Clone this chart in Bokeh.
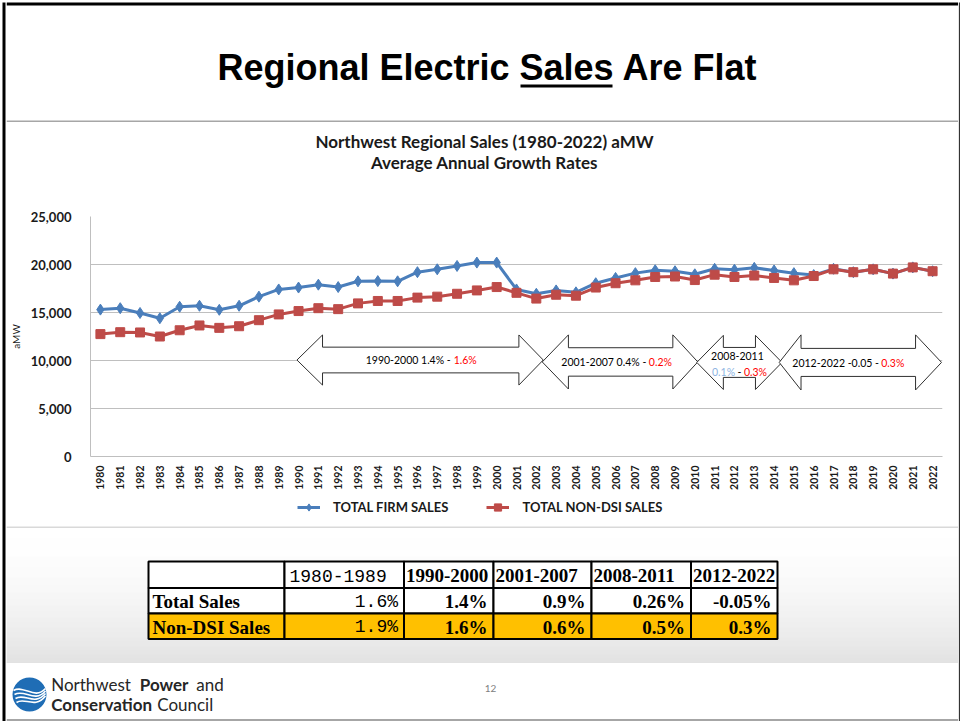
import math
from bokeh.plotting import figure
from bokeh.models import Range1d, FixedTicker, NumeralTickFormatter, Legend, LegendItem
from bokeh.layouts import column, row
from bokeh.core.properties import value
from bokeh.embed import file_html
from bokeh.resources import INLINE

# ---------------- data ----------------
YEARS = list(range(1980, 2023))
TOTAL_FIRM_SALES = [15300, 15450, 14950, 14400, 15600, 15700, 15280, 15700, 16650, 17400,
                    17600, 17900, 17650, 18250, 18270, 18250, 19200, 19500, 19850, 20200,
                    20200, 17400, 16950, 17300, 17100, 18050, 18600, 19100, 19400, 19300,
                    18980, 19550, 19450, 19650, 19380, 19100, 18900, 19550, 19200, 19500,
                    19050, 19700, 19300]
TOTAL_NON_DSI_SALES = [12750, 12950, 12920, 12500, 13150, 13650, 13400, 13570, 14200, 14800,
                       15150, 15450, 15350, 15950, 16200, 16200, 16550, 16650, 16950, 17300,
                       17650, 17050, 16450, 16850, 16750, 17600, 18050, 18350, 18700, 18750,
                       18380, 18940, 18700, 18850, 18600, 18350, 18800, 19500, 19200, 19500,
                       19050, 19700, 19300]
Y_TICKS = [0, 5000, 10000, 15000, 20000, 25000]
SERIES_NAMES = ["TOTAL FIRM SALES", "TOTAL NON-DSI SALES"]

TABLE_PERIODS = ["1980-1989", "1990-2000", "2001-2007", "2008-2011", "2012-2022"]
TABLE_ROWS = ["Total Sales", "Non-DSI Sales"]
TOTAL_SALES_GROWTH = ["1.6%", "1.4%", "0.9%", "0.26%", "-0.05%"]
NON_DSI_GROWTH = ["1.9%", "1.6%", "0.6%", "0.5%", "0.3%"]

SLIDE_TITLE = ["Regional Electric", "Sales", "Are Flat"]
CHART_TITLE = ["Northwest Regional Sales (1980-2022) aMW", "Average Annual Growth Rates"]

BLUE = "#4a7ebb"
RED = "#be4b48"
X0, X1 = 6, 958
W = X1 - X0
CAL = value("Lato")
CALS = "Lato"


def deco_fig(y0, y1, x0=X0, x1=X1):
    p = figure(width=x1 - x0, height=y1 - y0, x_range=Range1d(x0, x1), y_range=Range1d(y1, y0),
               output_backend="svg", toolbar_location=None, min_border=0,
               x_axis_type=None, y_axis_type=None, frame_align=False)
    p.grid.visible = False
    p.outline_line_color = None
    p.background_fill_color = "white"
    p.border_fill_color = "white"
    return p


# ---------------- slide borders ----------------
left_strip = deco_fig(0, 721, 0, X0)
left_strip.segment(x0=[3.5], y0=[2], x1=[3.5], y1=[721], line_color="black", line_width=3)
right_strip = deco_fig(0, 721, X1, 960)
right_strip.segment(x0=[959], y0=[2], x1=[959], y1=[721], line_color="#333333", line_width=1.5)

# ---------------- slide header ----------------
hdr = deco_fig(0, 122)
hdr.segment(x0=[X0], y0=[3.5], x1=[X1], y1=[3.5], line_color="black", line_width=3)
tf = value("Liberation Sans")
hdr.text(x=[509], y=[67], text=[SLIDE_TITLE[0]], text_align="right", text_baseline="middle",
         text_font=tf, text_font_style="bold", text_font_size="36px", text_color="black")
hdr.text(x=[566], y=[67], text=[SLIDE_TITLE[1]], text_align="center", text_baseline="middle",
         text_font=tf, text_font_style="bold", text_font_size="36px", text_color="black")
hdr.text(x=[622], y=[67], text=[SLIDE_TITLE[2]], text_align="left", text_baseline="middle",
         text_font=tf, text_font_style="bold", text_font_size="36px", text_color="black")
hdr.segment(x0=[520], y0=[85.5], x1=[612], y1=[85.5], line_color="black", line_width=3)
hdr.segment(x0=[X0], y0=[121], x1=[X1], y1=[121], line_color="#a6a6a6", line_width=2)

# ---------------- chart title ----------------
ctl = deco_fig(122, 190)
ctl.text(x=[484, 484], y=[141, 162], text=CHART_TITLE, text_align="center", text_baseline="middle",
         text_font=CAL, text_font_style="bold", text_font_size="17px", text_color="#1a1a1a")

# ---------------- chart ----------------
p = figure(width=W, height=305, x_range=Range1d(1979.5, 2022.5), y_range=Range1d(0, 25000),
           output_backend="svg", toolbar_location=None, frame_align=False,
           min_border_left=88 - X0, min_border_right=X1 - 942, min_border_top=26, min_border_bottom=39)
p.outline_line_color = None
p.xgrid.visible = False
p.ygrid.grid_line_color = "#bfbfbf"
p.ygrid.grid_line_width = 1.2

p.yaxis.ticker = FixedTicker(ticks=Y_TICKS)
p.yaxis.formatter = NumeralTickFormatter(format="0,0")
p.yaxis.axis_line_color = "#bfbfbf"
p.yaxis.major_tick_line_color = None
p.yaxis.minor_tick_line_color = None
p.yaxis.major_label_standoff = 13
p.yaxis.major_label_text_font = CALS
p.yaxis.major_label_text_font_style = "bold"
p.yaxis.major_label_text_font_size = "13px"
p.yaxis.major_label_text_color = "#1a1a1a"
p.yaxis.axis_label = "aMW"
p.yaxis.axis_label_text_font = CALS
p.yaxis.axis_label_text_font_style = "normal"
p.yaxis.axis_label_text_font_size = "10px"
p.yaxis.axis_label_text_color = "#1a1a1a"
p.yaxis.axis_label_standoff = 6

p.xaxis.ticker = FixedTicker(ticks=YEARS)
p.xaxis.major_label_orientation = math.pi / 2
p.xaxis.axis_line_color = "#bfbfbf"
p.xaxis.major_tick_line_color = None
p.xaxis.minor_tick_line_color = None
p.xaxis.major_label_standoff = 3
p.xaxis.major_label_text_font = CALS
p.xaxis.major_label_text_font_style = "bold"
p.xaxis.major_label_text_font_size = "10.5px"
p.xaxis.major_label_text_color = "#1a1a1a"


def arrow(x0, x1, yc, hh, sh, hl, hr):
    xs = [x0, x0 + hl, x0 + hl, x1 - hr, x1 - hr, x1, x1 - hr, x1 - hr, x0 + hl, x0 + hl]
    ys = [yc, yc + hh, yc + sh, yc + sh, yc + hh, yc, yc - hh, yc - sh, yc - sh, yc - hh]
    return xs, ys


ARROWS = [
    (1989.92, 2002.35, 10050, 2610, 1340, 1.29, 1.23),
    (2002.30, 2010.15, 9850, 2820, 1480, 1.32, 1.26),
    (2010.10, 2014.40, 9800, 2820, 1560, 1.34, 1.34),
    (2014.26, 2022.45, 9800, 2870, 1460, 1.10, 1.31),
]
axs, ays = [], []
for a in ARROWS:
    xs, ys = arrow(*a)
    axs.append(xs)
    ays.append(ys)
p.patches(axs, ays, fill_color="white", line_color="#303030", line_width=1)

af = dict(text_font=CAL, text_font_size="10.5px", text_baseline="middle")
p.text(x=[1997.68], y=[10050], text=["1990-2000 1.4% -"], text_align="right", text_color="black", **af)
p.text(x=[1997.83], y=[10050], text=["1.6%"], text_align="left", text_color="#ff0000", **af)
p.text(x=[2007.55], y=[9850], text=["2001-2007 0.4% -"], text_align="right", text_color="black", **af)
p.text(x=[2007.68], y=[9850], text=["0.2%"], text_align="left", text_color="#ff0000", **af)
p.text(x=[2012.15], y=[10440], text=["2008-2011"], text_align="center", text_color="black", **af)
p.text(x=[2012.03], y=[8843], text=["0.1%"], text_align="right", text_color="#8db4e2", **af)
p.text(x=[2012.25], y=[8843], text=["-"], text_align="center", text_color="black", **af)
p.text(x=[2012.48], y=[8843], text=["0.3%"], text_align="left", text_color="#ff0000", **af)
p.text(x=[2019.29], y=[9782], text=["2012-2022 -0.05 -"], text_align="right", text_color="black", **af)
p.text(x=[2019.41], y=[9782], text=["0.3%"], text_align="left", text_color="#ff0000", **af)

p.line(YEARS, TOTAL_FIRM_SALES, line_color=BLUE, line_width=3)
p.scatter(YEARS, TOTAL_FIRM_SALES, marker="diamond", size=11, fill_color=BLUE, line_color=BLUE)
p.line(YEARS, TOTAL_NON_DSI_SALES, line_color=RED, line_width=3)
p.scatter(YEARS, TOTAL_NON_DSI_SALES, marker="square", size=9, fill_color=RED, line_color=RED)

# ---------------- legend strip (below the axis labels) ----------------
# key renderers carry one off-screen point each so that their legend swatches are drawn
lg = deco_fig(495, 526)
KEY_X = [-500, -490]
KEY_Y = [-500, -500]
lb1 = lg.line(KEY_X, KEY_Y, line_color=BLUE, line_width=3)
lb2 = lg.scatter(KEY_X[:1], KEY_Y[:1], marker="diamond", size=11, fill_color=BLUE, line_color=BLUE)
lr1 = lg.line(KEY_X, KEY_Y, line_color=RED, line_width=3)
lr2 = lg.scatter(KEY_X[:1], KEY_Y[:1], marker="square", size=9, fill_color=RED, line_color=RED)
legend = Legend(items=[LegendItem(label=SERIES_NAMES[0], renderers=[lb1, lb2]),
                       LegendItem(label=SERIES_NAMES[1], renderers=[lr1, lr2])],
                orientation="horizontal", location=(291, 10), padding=0, margin=0, spacing=38,
                label_standoff=13, glyph_width=23, glyph_height=18,
                border_line_color=None, background_fill_alpha=0,
                label_text_font=CALS, label_text_font_style="bold", label_text_font_size="13px",
                label_text_color="#1a1a1a")
lg.add_layout(legend, "center")

# ---------------- table area ----------------
tbl = deco_fig(526, 663)
gy0, gy1, gcol = [], [], []
for i in range(137):
    t = (i + 0.5) / 137.0
    c = int(round(255 - 39 * t ** 1.8))
    gy0.append(526 + i)
    gy1.append(527 + i)
    gcol.append("#%02x%02x%02x" % (c, c, c))
tbl.quad(left=X0, right=X1, top=gy0, bottom=gy1, fill_color=gcol, line_color=None)
tbl.segment(x0=[X0], y0=[526.5], x1=[X1], y1=[526.5], line_color="#b4b4b4", line_width=1.2)

COLS = [148, 284, 403.5, 493, 591, 690.5, 777]
ROWS = [561, 587.5, 613, 638.5]
cl, cr, ct, cb, cf = [], [], [], [], []
for r in range(3):
    for c in range(6):
        cl.append(COLS[c]); cr.append(COLS[c + 1])
        ct.append(ROWS[r]); cb.append(ROWS[r + 1])
        cf.append("#ffc000" if r == 2 else "white")
tbl.quad(left=cl, right=cr, top=ct, bottom=cb, fill_color=cf, line_color="black", line_width=2)

times = value("Liberation Serif")
mono = value("Liberation Mono")
rc = [(ROWS[i] + ROWS[i + 1]) / 2 + 1 for i in range(3)]
tbl.text(x=[COLS[1] + 5], y=[rc[0]], text=[TABLE_PERIODS[0]], text_align="left", text_baseline="middle",
         text_font=mono, text_font_size="18px", text_color="black")
tbl.text(x=[c + 2 for c in COLS[2:6]], y=[rc[0]] * 4, text=TABLE_PERIODS[1:], text_align="left",
         text_baseline="middle", text_font=times, text_font_style="bold", text_font_size="19px",
         text_color="black")
tbl.text(x=[COLS[0] + 4] * 2, y=rc[1:], text=TABLE_ROWS, text_align="left", text_baseline="middle",
         text_font=times, text_font_style="bold", text_font_size="19px", text_color="black")
for ri, vals in ((1, TOTAL_SALES_GROWTH), (2, NON_DSI_GROWTH)):
    tbl.text(x=[COLS[2] - 6], y=[rc[ri]], text=[vals[0]], text_align="right", text_baseline="middle",
             text_font=mono, text_font_size="18px", text_color="black")
    tbl.text(x=[c - 6 for c in COLS[3:7]], y=[rc[ri]] * 4, text=vals[1:], text_align="right",
             text_baseline="middle", text_font=times, text_font_style="bold", text_font_size="19px",
             text_color="black")

# ---------------- footer ----------------
ftr = deco_fig(663, 721)
ftr.circle(x=[29], y=[694], radius=17, fill_color="#1f6db5", line_color=None)
for k in range(4):
    ftr.bezier(x0=[13 + k], y0=[690 + 4 * k], x1=[45], y1=[688 + k * 2.5],
               cx0=[24], cy0=[684 + 4 * k], cx1=[34], cy1=[700 + 3 * k],
               line_color="white", line_width=1.6)
ff = value("Lato")
ftr.text(x=[50.7], y=[684], text=["Northwest"], text_align="left", text_baseline="middle",
         text_font=ff, text_font_size="17px", text_color="#262626")
ftr.text(x=[139.3], y=[684], text=["Power"], text_align="left", text_baseline="middle",
         text_font=ff, text_font_style="bold", text_font_size="17px", text_color="#262626")
ftr.text(x=[195.7], y=[684], text=["and"], text_align="left", text_baseline="middle",
         text_font=ff, text_font_size="17px", text_color="#262626")
ftr.text(x=[50.7], y=[703.5], text=["Conservation"], text_align="left", text_baseline="middle",
         text_font=ff, text_font_style="bold", text_font_size="17px", text_color="#262626")
ftr.text(x=[156.7], y=[703.5], text=["Council"], text_align="left", text_baseline="middle",
         text_font=ff, text_font_size="17px", text_color="#262626")
ftr.text(x=[490], y=[688], text=["12"], text_align="center", text_baseline="middle",
         text_font=ff, text_font_size="10px", text_color="#808080")
ftr.segment(x0=[X0], y0=[719.5], x1=[X1], y1=[719.5], line_color="#a6a6a6", line_width=2)

layout = row(left_strip, column(hdr, ctl, p, lg, tbl, ftr, spacing=0), right_strip, spacing=0)
open("out.html", "w").write(file_html(layout, INLINE))
